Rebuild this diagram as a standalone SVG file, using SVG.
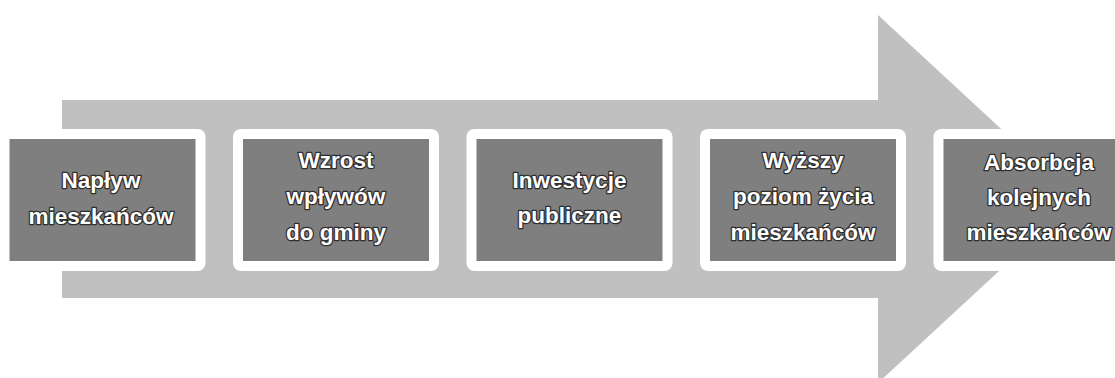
<svg xmlns="http://www.w3.org/2000/svg" width="1115" height="378" viewBox="0 0 1115 378">
<style>
.frame{fill:#ffffff}
.box{fill:#807f80}
.lbl{font-family:"Liberation Sans",Arial,sans-serif;font-weight:bold;font-size:22.5px;fill:#ffffff;stroke:#2e2e2e;stroke-width:2.6;paint-order:stroke;stroke-linejoin:round;text-anchor:middle}
</style>
<rect width="1115" height="378" fill="#ffffff"/>
<g id="arrow">
<polygon points="62,100 878,100 878,15 1077,199 878,383 878,298 62,298" fill="#c0c0c0"/>
</g>
<g id="connectors"></g>
<g id="n1">
<rect class="frame" x="-0.5" y="129" width="206" height="142" rx="8"/>
<rect class="box" x="9.5" y="139" width="186" height="122"/>
<text class="lbl"><tspan x="101" y="188">Napływ</tspan><tspan x="101" y="224">mieszkańców</tspan></text>
</g>
<g id="n2">
<rect class="frame" x="233" y="129" width="206" height="142" rx="8"/>
<rect class="box" x="243" y="139" width="186" height="122"/>
<text class="lbl"><tspan x="336" y="168">Wzrost</tspan><tspan x="336" y="204">wpływów</tspan><tspan x="336" y="240">do gminy</tspan></text>
</g>
<g id="n3">
<rect class="frame" x="466.5" y="129" width="206" height="142" rx="8"/>
<rect class="box" x="476.5" y="139" width="186" height="122"/>
<text class="lbl"><tspan x="569.5" y="188">Inwestycje</tspan><tspan x="569.5" y="223">publiczne</tspan></text>
</g>
<g id="n4">
<rect class="frame" x="700" y="129" width="206" height="142" rx="8"/>
<rect class="box" x="710" y="139" width="186" height="122"/>
<text class="lbl"><tspan x="803" y="168">Wyższy</tspan><tspan x="803" y="204">poziom życia</tspan><tspan x="803" y="240">mieszkańców</tspan></text>
</g>
<g id="n5">
<rect class="frame" x="933.5" y="129" width="206" height="142" rx="8"/>
<rect class="box" x="943.5" y="139" width="186" height="122"/>
<text class="lbl"><tspan x="1039" y="170">Absorbcja</tspan><tspan x="1039" y="205">kolejnych</tspan><tspan x="1039" y="240">mieszkańców</tspan></text>
</g>
</svg>
